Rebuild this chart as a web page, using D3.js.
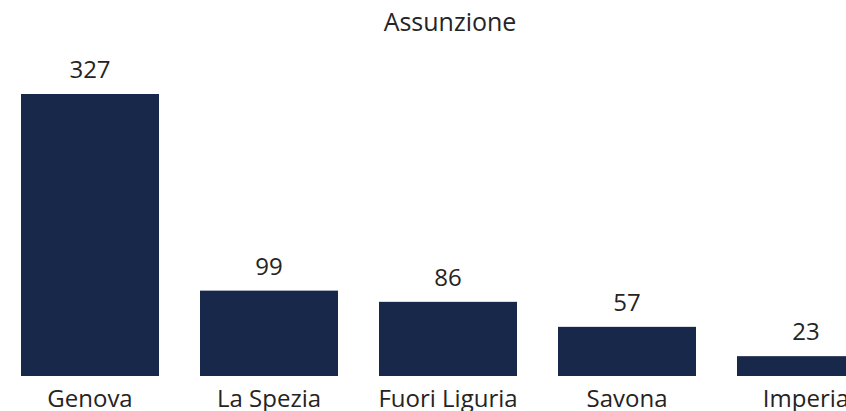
<!DOCTYPE html>
<html>
<head>
<meta charset="utf-8">
<script src="https://cdn.jsdelivr.net/npm/d3@7"></script>
<style>
  body { margin: 0; background: #fff; overflow: hidden; }
  text { font-family: "Open Sans", "Noto Sans", sans-serif; fill: #252423; }
</style>
</head>
<body>
<svg id="chart" width="846" height="411"></svg>
<script>
// data
const categories = ["Genova", "La Spezia", "Fuori Liguria", "Savona", "Imperia"];
const values = [327, 99, 86, 57, 23];
const title = "Assunzione";

const data = categories.map(function (c, i) { return { cat: c, value: values[i] }; });

const svg = d3.select("#chart");

const x = d3.scaleBand()
    .domain(categories)
    .range([21, 875])
    .paddingInner(0.229)
    .paddingOuter(0);

const y = d3.scaleLinear()
    .domain([0, d3.max(values)])
    .range([376, 94]);

svg.append("text")
    .attr("x", 450)
    .attr("y", 31)
    .attr("text-anchor", "middle")
    .style("font-size", "25px")
    .text(title);

svg.append("g").selectAll("rect")
    .data(data)
    .enter().append("rect")
    .attr("x", function (d) { return x(d.cat); })
    .attr("y", function (d) { return y(d.value); })
    .attr("width", x.bandwidth())
    .attr("height", function (d) { return y(0) - y(d.value); })
    .style("fill", "#17284a");

// value labels
svg.append("g").selectAll("text")
    .data(data)
    .enter().append("text")
    .attr("x", function (d) { return x(d.cat) + x.bandwidth() / 2; })
    .attr("y", function (d) { return y(d.value) - 16; })
    .attr("text-anchor", "middle")
    .style("font-size", "24px")
    .text(function (d) { return d.value; });

// category axis
const xAxis = svg.append("g")
    .attr("transform", "translate(0,376)")
    .call(d3.axisBottom(x).tickSize(0).tickPadding(14));
xAxis.select(".domain").remove();
xAxis.selectAll("text")
    .style("font-size", "24px")
    .style("font-family", "'Open Sans', 'Noto Sans', sans-serif")
    .style("fill", "#252423");
</script>
</body>
</html>
